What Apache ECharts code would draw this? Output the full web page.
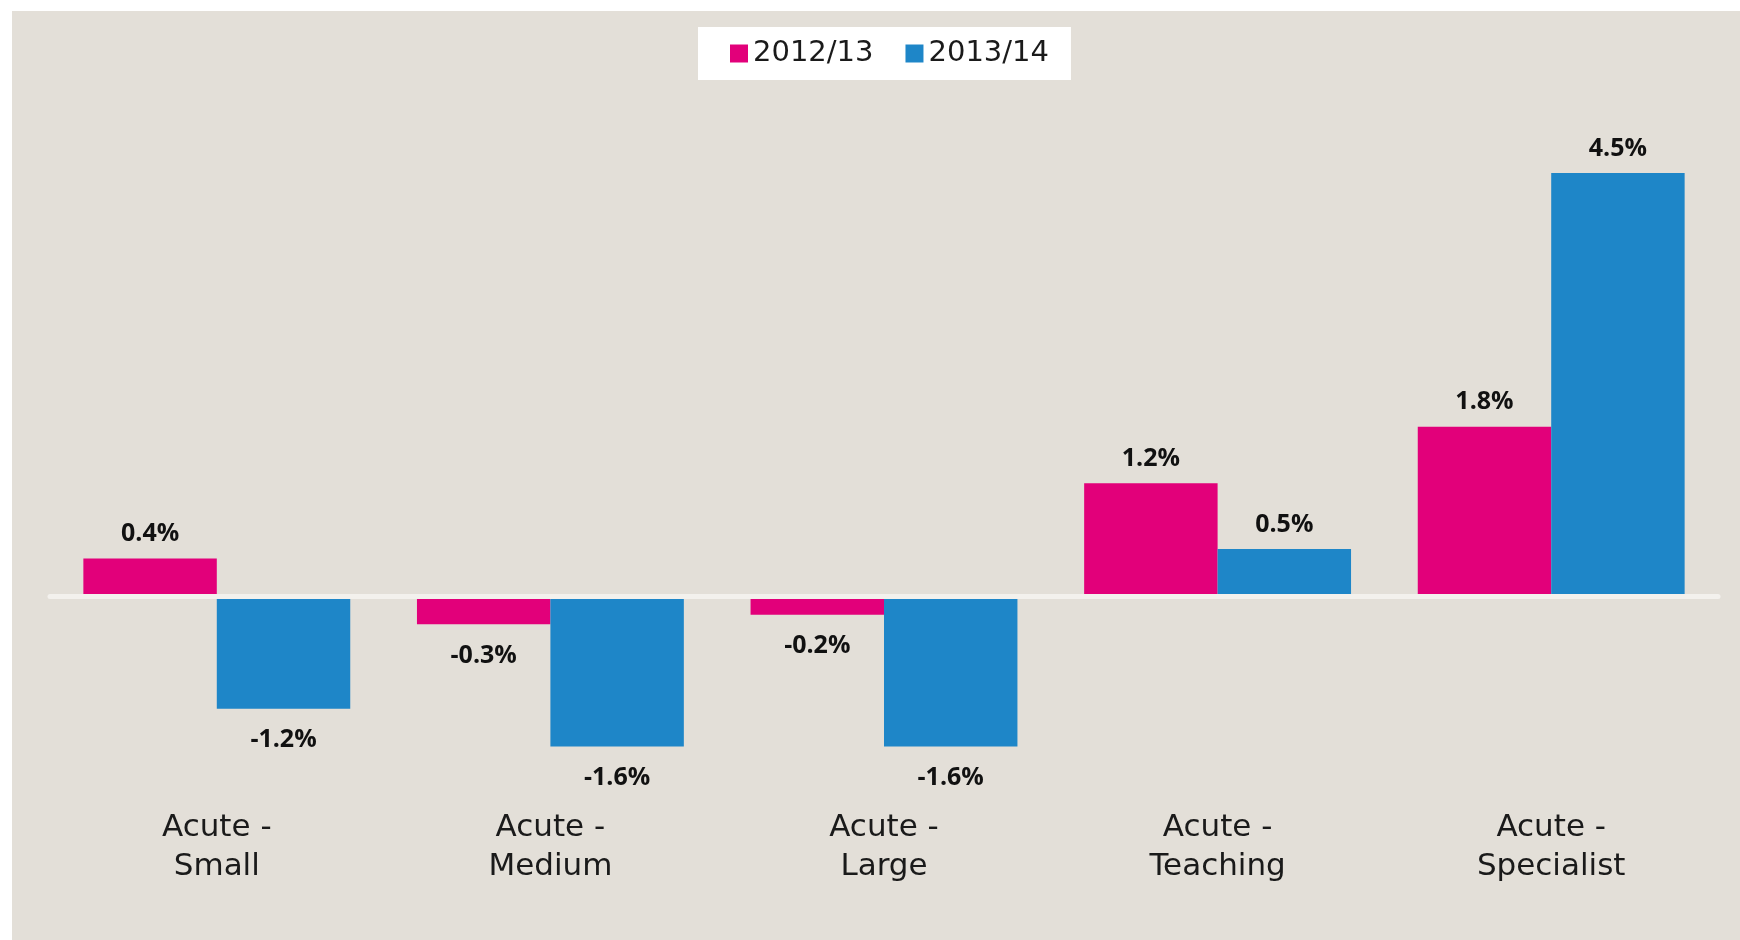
<!DOCTYPE html>
<html>
<head>
<meta charset="utf-8">
<script src="https://cdn.jsdelivr.net/npm/echarts@6/dist/echarts.min.js"></script>
<style>
  html, body { margin: 0; padding: 0; background: #ffffff; }
  #chart { position: absolute; left: 12px; top: 11px; width: 1728px; height: 929px; }
</style>
</head>
<body>
<div id="chart"></div>
<script>
// categories and values (percent change)
var categories = ['Acute -\nSmall', 'Acute -\nMedium', 'Acute -\nLarge', 'Acute -\nTeaching', 'Acute -\nSpecialist'];
var seriesNames = ['2012/13', '2013/14'];
var values2012 = [0.4, -0.3, -0.2, 1.2, 1.8];
var values2013 = [-1.2, -1.6, -1.6, 0.5, 4.5];
var colors = ['#e2007a', '#1e86c8'];

var chart = echarts.init(document.getElementById('chart'));

//每个柱子的标签,负数放下面
function barData(vals) {
    return vals.map(function (v) {
        return {
            value: v,
            label: v < 0 ? { position: 'bottom', distance: 19 } : { position: 'top', distance: 12 }
        };
    });
}

function barSeries(name, vals, color) {
    return {
        name: name,
        type: 'bar',
        data: barData(vals),
        barWidth: '40%',
        barGap: '0%',
        itemStyle: { color: color },
        label: {
            show: true,
            color: '#111111',
            fontFamily: 'Open Sans',
            fontWeight: 'bold',
            fontSize: 25,
            formatter: function (p) { return p.value.toFixed(1) + '%'; }
        }
    };
}

var option = {
    backgroundColor: '#e3dfd8',
    animation: false,
    color: colors,
    legend: {
        left: 686,
        top: 16,
        backgroundColor: '#ffffff',
        padding: [12, 22, 12, 32],
        itemWidth: 18,
        itemHeight: 18,
        itemGap: 32,
        icon: 'rect',
        textStyle: {
            fontFamily: 'DejaVu Sans',
            fontSize: 29,
            color: '#1a1a1a'
        },
        data: seriesNames
    },
    grid: {
        left: 38,
        right: 22,
        top: 115,
        bottom: 156,
        containLabel: false,
        outerBoundsMode: 'none'
    },
    xAxis: {
        type: 'category',
        data: categories,
        axisLine: {
            show: true,
            onZero: true,
            lineStyle: { color: '#f3f1ed', width: 5 }
        },
        axisTick: { show: false },
        axisLabel: {
            margin: 24,
            fontFamily: 'DejaVu Sans',
            fontSize: 31,
            lineHeight: 39,
            color: '#1a1a1a'
        },
        z: 10
    },
    yAxis: {
        type: 'value',
        min: -2,
        max: 5,
        interval: 1,
        show: false,
        splitLine: { show: false }
    },
    series: [
        barSeries(seriesNames[0], values2012, colors[0]),
        barSeries(seriesNames[1], values2013, colors[1])
    ]
};

chart.setOption(option);
</script>
</body>
</html>
